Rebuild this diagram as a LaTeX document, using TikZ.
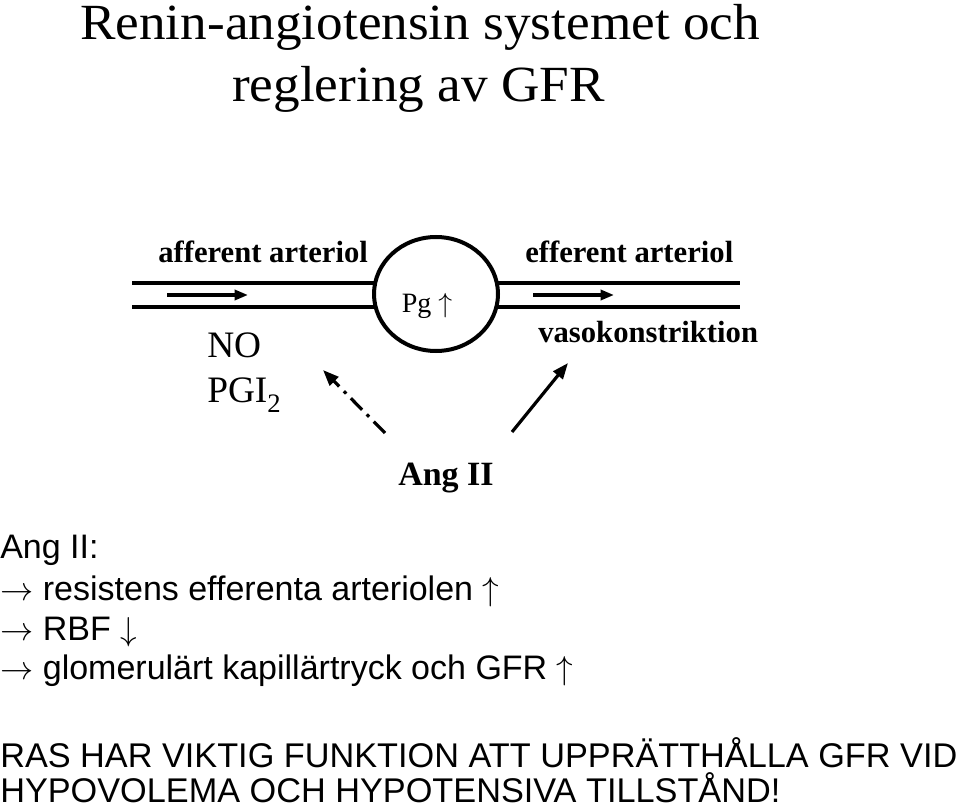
\documentclass[tikz,border=0pt]{standalone}
\usepackage{fontspec}
\setmainfont{Liberation Serif}
\setsansfont{Liberation Sans}
\usetikzlibrary{arrows.meta,shapes.geometric}
\begin{document}
\begin{tikzpicture}[x=0.75pt,y=-0.75pt,
  tube/.style={line width=3pt},
  flow/.style={line width=2.4pt,-{Triangle[length=10pt,width=7.5pt]}},
  txt/.style={inner sep=0pt,anchor=base west},
  ser/.style={txt,font=\fontsize{#1}{#1}\selectfont},
  serb/.style={txt,font=\fontsize{#1}{#1}\selectfont\bfseries},
  sans/.style={txt,font=\fontsize{#1}{#1}\selectfont\sffamily}]
\useasboundingbox (0,0) rectangle (960,809);
% title
\node[ser=38pt] (t1) at (80,40) {\scalebox{1.05}[1]{Renin-angiotensin systemet och}};
\node[ser=38pt] (t2) at (232,102) {\scalebox{1.05}[1]{reglering av GFR}};
% labels
\node[serb=23pt] (aff) at (158,263) {afferent arteriol};
\node[serb=23pt] (eff) at (525,263) {efferent arteriol};
\node[serb=23pt] (vaso) at (538,342) {vasokonstriktion};
\node[ser=28pt] (no) at (207,357) {NO};
\node[ser=28pt] (pgi) at (207,402) {PGI\raisebox{-7.5pt}{\fontsize{20pt}{20pt}\selectfont 2}};
\node[serb=25.5pt] (ang) at (398,485) {Ang II};
% glomerulus
\node[draw,ellipse,line width=3pt,minimum width=93pt,minimum height=85.5pt,inner sep=0pt] (glom) at (436,294) {};
\node[ser=21pt,anchor=base] (pg) at (427,312) {Pg $\uparrow$};
% tubes
\coordinate (a1) at (132,283); \coordinate (a2) at (375,283);
\coordinate (a3) at (132,307); \coordinate (a4) at (375,307);
\coordinate (e1) at (497,283); \coordinate (e2) at (740,283);
\coordinate (e3) at (497,307); \coordinate (e4) at (740,307);
\draw[tube] (a1) -- (a2); \draw[tube] (a3) -- (a4);
\draw[tube] (e1) -- (e2); \draw[tube] (e3) -- (e4);
\coordinate (fa1) at (167,295); \coordinate (fa2) at (248,295);
\coordinate (fe1) at (533,295); \coordinate (fe2) at (614,295);
\draw[flow] (fa1) -- (fa2);
\draw[flow] (fe1) -- (fe2);
% Ang II arrows
\coordinate (d1) at (385,433); \coordinate (d2) at (323,370);
\draw[line width=2.4pt,dash pattern=on 12pt off 5pt on 2.5pt off 5pt,-{Triangle[length=12pt,width=9pt]}] (d1) -- (d2);
\coordinate (s1) at (512,432); \coordinate (s2) at (568,363);
\draw[line width=2.4pt,-{Triangle[length=12pt,width=9pt]}] (s1) -- (s2);
% text block
\node[sans=25.5pt] (l1) at (0,558) {Ang II:};
\node[sans=25.5pt] (l2) at (0,600) {$\rightarrow$ resistens efferenta arteriolen $\uparrow$};
\node[sans=25.5pt] (l3) at (0,640) {$\rightarrow$ RBF $\downarrow$};
\node[sans=25.5pt] (l4) at (0,679) {$\rightarrow$ glomerulärt kapillärtryck och GFR $\uparrow$};
\node[sans=25.7pt] (b1) at (0,767) {RAS HAR VIKTIG FUNKTION ATT UPPRÄTTHÅLLA GFR VID};
\node[sans=25.7pt] (b2) at (0,802) {HYPOVOLEMA OCH HYPOTENSIVA TILLSTÅND!};
\end{tikzpicture}
\end{document}
